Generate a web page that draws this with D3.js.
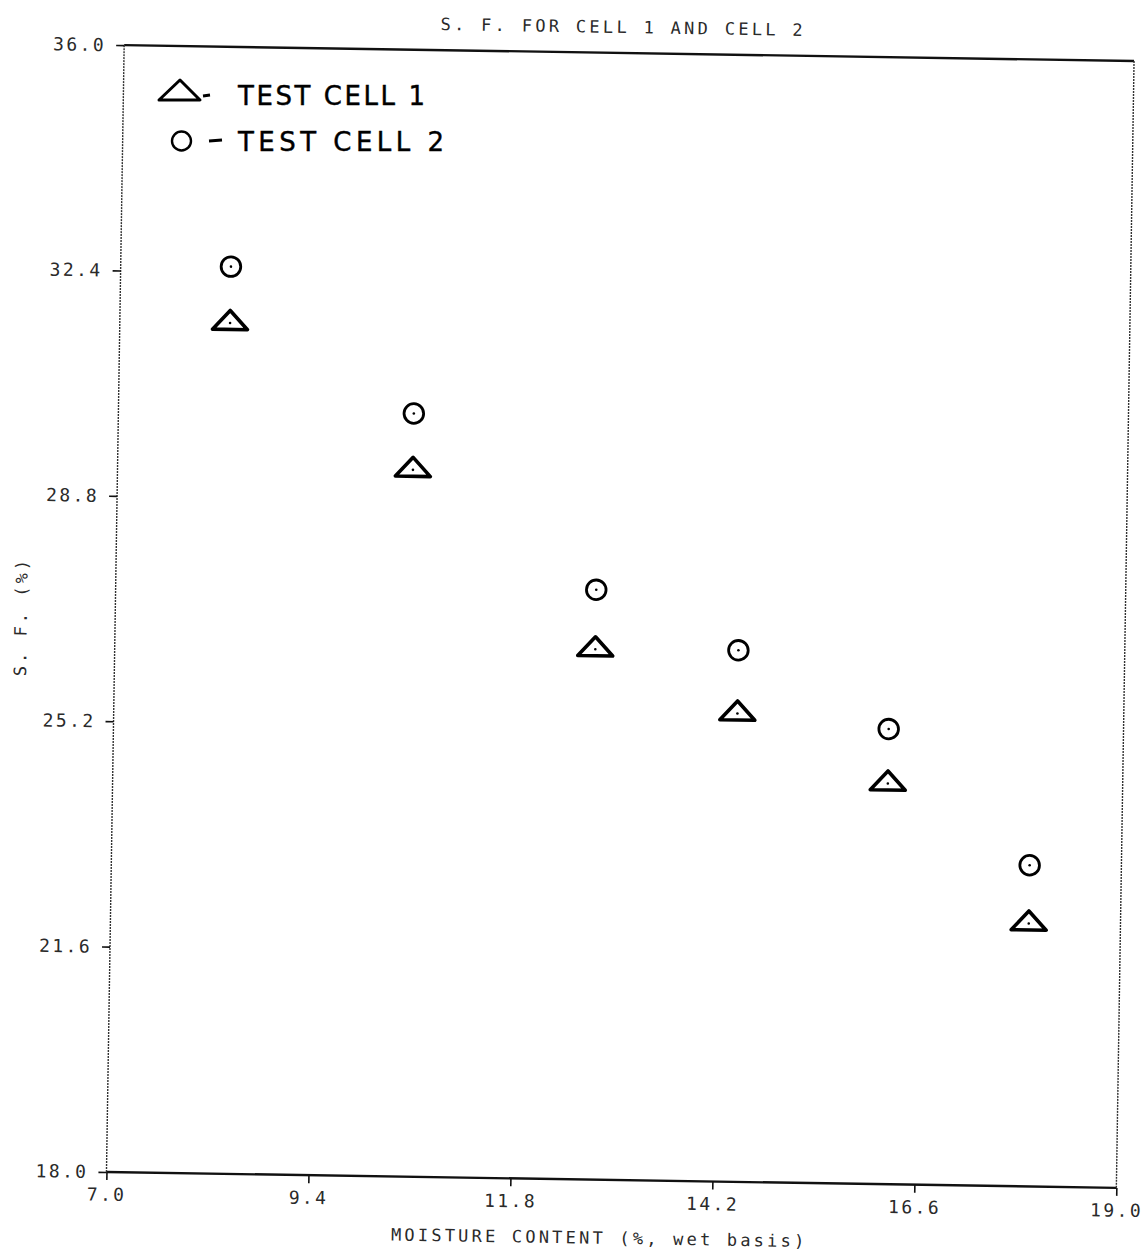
<!DOCTYPE html>
<html>
<head>
<meta charset="utf-8">
<script src="https://cdnjs.cloudflare.com/ajax/libs/d3/7.8.5/d3.min.js"></script>
<style>
body { margin: 0; background: #fff; }
</style>
</head>
<body>
<div id="chart"></div>
<script>
// values
var moisture = [8.31, 10.51, 12.71, 14.41, 16.21, 17.91];
var cell1 = [31.59, 29.29, 26.47, 25.48, 24.40, 22.20];
var cell2 = [32.49, 30.19, 27.42, 26.49, 25.27, 23.13];
var xTicks = [7.0, 9.4, 11.8, 14.2, 16.6, 19.0];
var yTicks = [18.0, 21.6, 25.2, 28.8, 32.4, 36.0];
var title = "S. F. FOR CELL 1 AND CELL 2";
var xTitle = "MOISTURE CONTENT (%, wet basis)";
var yTitle = "S. F. (%)";
var legendLabels = ["TEST CELL 1", "TEST CELL 2"];

var width = 1144, height = 1257;
var margin = {top: 53, right: 18.75, bottom: 77, left: 115.25};
var innerW = width - margin.left - margin.right,
    innerH = height - margin.top - margin.bottom;

var x = d3.scaleLinear().domain([7, 19]).range([margin.left, margin.left + innerW]);
var y = d3.scaleLinear().domain([18, 36]).range([margin.top + innerH, margin.top]);

var svg = d3.select("#chart").append("svg")
            .attr("width", width)
            .attr("height", height)
            .style("font-family", "'DejaVu Sans Mono', monospace");

svg.append("rect").attr("width", width).attr("height", height).attr("fill", "#fff");

/* the scan is turned slightly clockwise */
var page = svg.append("g")
              .attr("transform", "rotate(0.9,620.25,616.5)");

var ink = "#2a2a2a";

// frame: heavy top and bottom, thin dotted sides
page.append("line")
    .attr("x1", x(7)).attr("x2", x(19)).attr("y1", y(36)).attr("y2", y(36))
    .style("stroke", "#111").style("stroke-width", 2.4);
page.append("line")
    .attr("x1", x(7)).attr("x2", x(19)).attr("y1", y(18)).attr("y2", y(18))
    .style("stroke", "#111").style("stroke-width", 2.4);
page.append("line")
    .attr("x1", x(7)).attr("x2", x(7)).attr("y1", y(36)).attr("y2", y(18))
    .style("stroke", "#333").style("stroke-width", 1.4).style("stroke-dasharray", "2,1");
page.append("line")
    .attr("x1", x(19)).attr("x2", x(19)).attr("y1", y(36)).attr("y2", y(18))
    .style("stroke", "#333").style("stroke-width", 1.4).style("stroke-dasharray", "2,1");

var yAxis = d3.axisLeft(y).tickValues(yTicks).tickFormat(d3.format(".1f")).tickSize(8).tickPadding(10);
var xAxis = d3.axisBottom(x).tickValues(xTicks).tickFormat(d3.format(".1f")).tickSize(8).tickPadding(8);

page.append("g")
    .attr("transform", "translate(" + x(7) + ",0)")
    .call(yAxis)
    .call(function(g) { g.select(".domain").remove(); });

page.append("g")
    .attr("transform", "translate(0," + y(18) + ")")
    .call(xAxis)
    .call(function(g) { g.select(".domain").remove(); });

page.selectAll(".tick line").style("stroke", "#111").style("stroke-width", 1.6);
page.selectAll(".tick text")
    .style("font-family", "'DejaVu Sans Mono', monospace")
    .style("font-size", "18px")
    .style("letter-spacing", "2.4px")
    .style("fill", ink);

// titles
page.append("text")
    .attr("x", 614).attr("y", 33)
    .attr("text-anchor", "middle")
    .style("font-size", "17px").style("letter-spacing", "3.3px").style("fill", ink)
    .text(title);

page.append("text")
    .attr("x", 609).attr("y", 1244)
    .attr("text-anchor", "middle")
    .style("font-size", "17px").style("letter-spacing", "3.2px").style("fill", ink)
    .text(xTitle);

page.append("text")
    .attr("transform", "translate(27,626) rotate(-90)")
    .attr("text-anchor", "middle")
    .style("font-size", "17px").style("letter-spacing", "3px").style("fill", ink)
    .text(yTitle);

// markers
var triPath = "M0,-12.5L17.5,6.5L-17.5,6.5Z";
var points = moisture.map(function(m, i) { return {m: m, c1: cell1[i], c2: cell2[i]}; });

var tri = page.append("g").attr("class", "cell1")
    .selectAll("g").data(points).enter().append("g")
    .attr("transform", function(d) { return "translate(" + x(d.m) + "," + y(d.c1) + ")"; });
tri.append("path").attr("d", triPath)
   .style("fill", "none").style("stroke", "#000").style("stroke-width", 3.6)
   .style("stroke-linejoin", "round");
tri.append("circle").attr("r", 1.3).style("fill", "#000");

var circ = page.append("g").attr("class", "cell2")
    .selectAll("g").data(points).enter().append("g")
    .attr("transform", function(d) { return "translate(" + x(d.m) + "," + y(d.c2) + ")"; });
circ.append("circle").attr("r", 9.8)
    .style("fill", "none").style("stroke", "#000").style("stroke-width", 2.8);
circ.append("circle").attr("r", 1.3).style("fill", "#000");

/* hand written legend, drawn on top of the scan */
var legend = svg.append("g").attr("class", "legend");
legend.append("path")
      .attr("d", "M180,80L200,100L159,100Z")
      .style("fill", "none").style("stroke", "#000").style("stroke-width", 3)
      .style("stroke-linejoin", "round");
legend.append("line").attr("x1", 203).attr("x2", 210).attr("y1", 96).attr("y2", 95)
      .style("stroke", "#000").style("stroke-width", 3);
legend.append("circle").attr("cx", 181.5).attr("cy", 141).attr("r", 9.5)
      .style("fill", "none").style("stroke", "#000").style("stroke-width", 2.4);
legend.append("line").attr("x1", 209).attr("x2", 222).attr("y1", 141).attr("y2", 140)
      .style("stroke", "#000").style("stroke-width", 3);

legend.selectAll("text.lab").data(legendLabels).enter().append("text")
      .attr("class", "lab")
      .attr("x", 238)
      .attr("y", function(d, i) { return i == 0 ? 105 : 151; })
      .attr("textLength", function(d, i) { return i == 0 ? 187 : 206; })
      .attr("lengthAdjust", "spacing")
      .style("font-family", "'DejaVu Sans', sans-serif")
      .style("font-size", "26px")
      .style("fill", "#000")
      .style("stroke", "#000")
      .style("stroke-width", 0.4)
      .text(function(d) { return d; });
</script>
</body>
</html>
